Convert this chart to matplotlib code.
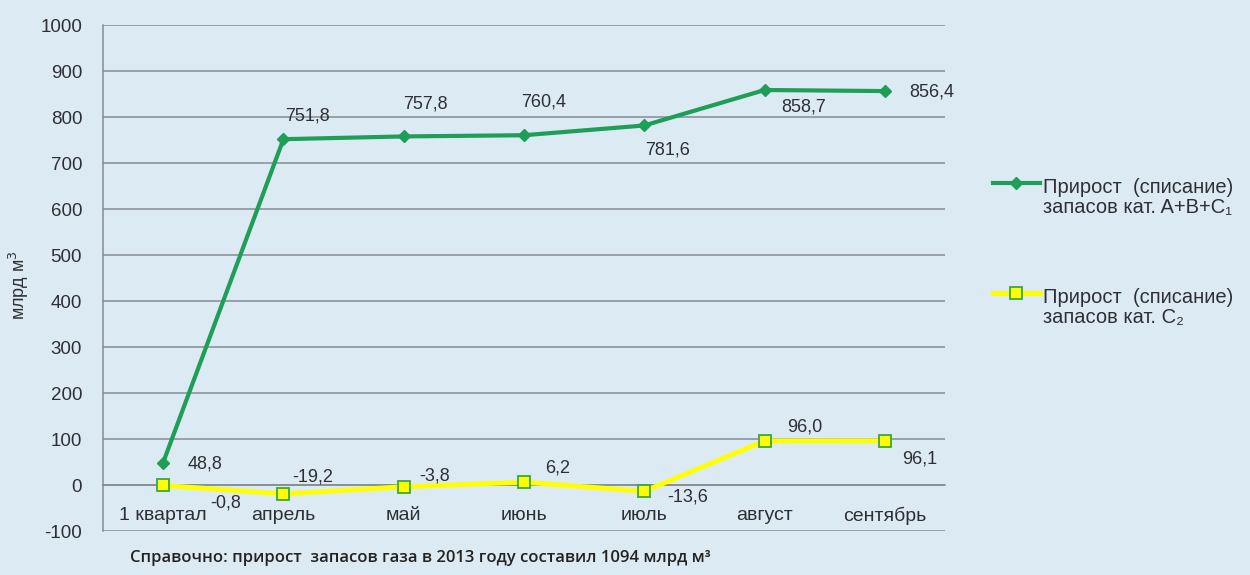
import matplotlib.pyplot as plt
from matplotlib.lines import Line2D

months = ["1 квартал", "апрель", "май", "июнь", "июль", "август", "сентябрь"]
abc1 = [48.8, 751.8, 757.8, 760.4, 781.6, 858.7, 856.4]
c2 = [-0.8, -19.2, -3.8, 6.2, -13.6, 96.0, 96.1]

# label offsets in points (dx, dy) for each point
abc1_off = [(30, -1), (17, 17), (16, 23), (14, 24), (17, -18), (28, -12), (34, -1)]
c2_off = [(45, -13), (21, 12), (22, 8), (24, 10), (31, -4), (29, 10), (25, -13)]

bg = "#dcebf3"
green = "#1f9e58"
yellow = "#ffff00"
grid_col = "#858c93"
txt = "#2e2f36"

plt.rcParams['font.family'] = ['Liberation Sans', 'DejaVu Sans']
plt.rcParams['axes.unicode_minus'] = False

fig = plt.figure(figsize=(12.5, 5.75), dpi=100, facecolor=bg)
ax = fig.add_axes([0.0824, 0.0765, 0.6736, 0.88])
ax.set_facecolor(bg)

x = list(range(len(months)))
ax.plot(x, abc1, color=green, lw=3, marker="D", ms=6.5, mfc=green, mec=green, zorder=4)
ax.plot(x, c2, color=yellow, lw=3.5, marker="s", ms=9, mfc=yellow, mec="#3aa83a", mew=1.3, zorder=4)

def fmt(v):
    return f"{v:.1f}".replace(".", ",")

for i, v in enumerate(abc1):
    ax.annotate(fmt(v), (i, v), xytext=abc1_off[i], textcoords="offset points",
                ha="center", va="center", fontsize=13, color=txt, zorder=5)
for i, v in enumerate(c2):
    ax.annotate(fmt(v), (i, v), xytext=c2_off[i], textcoords="offset points",
                ha="center", va="center", fontsize=13, color=txt, zorder=5)

ax.set_xlim(-0.5, len(months) - 0.5)
ax.set_ylim(-100, 1000)
ax.set_yticks(range(-100, 1001, 100))
ax.yaxis.grid(True, color=grid_col, lw=1.1)
ax.set_axisbelow(True)

for s in ["top", "right"]:
    ax.spines[s].set_visible(False)
ax.spines["left"].set_color(grid_col)
ax.spines["left"].set_linewidth(1.1)
ax.spines["bottom"].set_position(("data", 0))
ax.spines["bottom"].set_color(grid_col)
ax.spines["bottom"].set_linewidth(1.1)

ax.set_xticks(x)
ax.set_xticklabels(months, fontsize=14, color=txt)
ax.tick_params(axis="x", length=0, pad=15.5)
ax.tick_params(axis="y", length=0, pad=15, labelsize=13.5, labelcolor=txt)

fig.text(0.015, 0.505, "млрд м$^3$", rotation=90, ha="center", va="center",
         fontsize=13, color=txt)

# legend drawn by hand so the handle sits on the first text line
legend_items = [
    (dict(color=green, lw=3), dict(marker="D", ms=6.5, mfc=green, mec=green),
     "Прирост  (списание)\nзапасов кат. A+B+C₁", 1 - 183 / 575),
    (dict(color=yellow, lw=3.5), dict(marker="s", ms=8, mfc=yellow, mec="#3aa83a", mew=1.3),
     "Прирост  (списание)\nзапасов кат. C₂", 1 - 293 / 575),
]
for line_style, mark_style, label, ly in legend_items:
    fig.add_artist(Line2D([993 / 1250, 1040 / 1250], [ly, ly], transform=fig.transFigure, **line_style))
    fig.add_artist(Line2D([1016 / 1250], [ly], transform=fig.transFigure, ls="none", **mark_style))
    fig.text(1043 / 1250, ly + 5 / 575, label, ha="left", va="top", fontsize=14.5,
             color=txt, linespacing=1.05, transform=fig.transFigure)

fig.text(0.104, 0.022, "Справочно: прирост  запасов газа в 2013 году составил 1094 млрд м³",
         fontsize=12, color="#222222", family=["Open Sans", "DejaVu Sans"], weight="semibold")

fig.savefig("out.png", dpi=100, facecolor=bg)
